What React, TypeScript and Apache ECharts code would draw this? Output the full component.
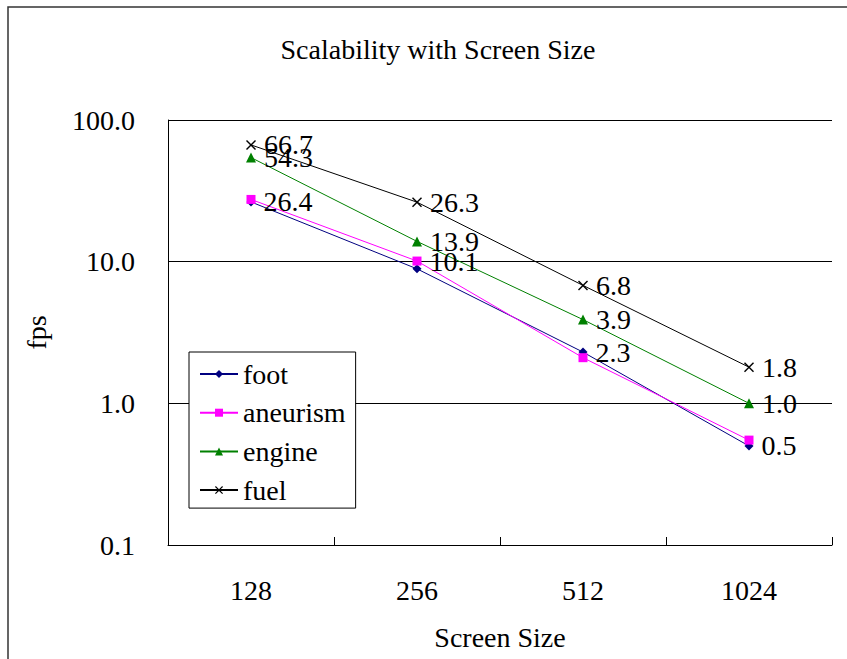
import React, { useEffect, useRef } from "react";
import * as echarts from "echarts";

const categories = ["128", "256", "512", "1024"];
const foot = [26.4, 8.9, 2.3, 0.5];
const aneurism = [27.5, 10.1, 2.1, 0.55];
const engine = [54.3, 13.9, 3.9, 1.0];
const fuel = [66.7, 26.3, 6.8, 1.8];
const footLabels = [true, false, true, true];
const aneurismLabels = [false, true, false, false];
const engineLabels = [true, true, true, true];
const fuelLabels = [true, true, true, true];

const FONT = "Liberation Serif";
const X_SYMBOL =
  "path://M0,1L1,0L5,4L9,0L10,1L6,5L10,9L9,10L5,6L1,10L0,9L4,5Z";

function makeSeries(
  name: string,
  values: number[],
  shown: boolean[],
  color: string,
  symbol: string,
  symbolSize: number
) {
  return {
    name,
    type: "line",
    symbol,
    symbolSize,
    showAllSymbol: true,
    lineStyle: { color, width: 1 },
    itemStyle: { color, borderWidth: 0 },
    emphasis: { disabled: true },
    data: values.map((v, i) => ({
      value: v,
      label: {
        show: shown[i],
        position: "right",
        distance: 8,
        formatter: (p: any) => Number(p.value).toFixed(1),
        color: "#000",
        fontSize: 28,
        fontFamily: FONT,
      },
    })),
  };
}

export default function App() {
  const ref = useRef<HTMLDivElement>(null);
  useEffect(() => {
    if (!ref.current) return;
    const chart = echarts.init(ref.current, null, { renderer: "svg" });
    chart.setOption({
      animation: false,
      backgroundColor: "#fff",
      textStyle: { fontFamily: FONT },
      title: {
        text: "Scalability with Screen Size",
        left: 433,
        top: 30,
        textAlign: "center",
        textStyle: {
          fontFamily: FONT,
          fontSize: 28,
          fontWeight: "normal",
          color: "#000",
        },
      },
      graphic: [
        {
          type: "rect",
          shape: { x: 8, y: 7, width: 900, height: 700 },
          style: { fill: "none", stroke: "#333", lineWidth: 1.5 },
          silent: true,
          z: -1,
        },
      ],
      legend: {
        orient: "vertical",
        left: 189,
        top: 352,
        itemWidth: 38,
        itemHeight: 10,
        itemGap: 8.7,
        padding: [7, 10, 3, 10],
        borderColor: "#000",
        borderWidth: 1,
        backgroundColor: "#fff",
        textStyle: {
          fontFamily: FONT,
          fontSize: 28,
          color: "#000",
          lineHeight: 30,
        },
        data: ["foot", "aneurism", "engine", "fuel"],
      },
      grid: { left: 168, right: 15, top: 120, bottom: 114 },
      xAxis: {
        type: "category",
        data: categories,
        boundaryGap: true,
        name: "Screen Size",
        nameLocation: "middle",
        nameGap: 78,
        nameTextStyle: { fontFamily: FONT, fontSize: 28, color: "#000" },
        axisLine: { lineStyle: { color: "#000", width: 1 } },
        axisTick: {
          show: true,
          inside: true,
          length: 8,
          alignWithLabel: false,
          lineStyle: { color: "#000" },
        },
        axisLabel: {
          margin: 31,
          fontFamily: FONT,
          fontSize: 28,
          color: "#000",
        },
        splitLine: { show: false },
      },
      yAxis: {
        type: "log",
        logBase: 10,
        min: 0.1,
        max: 100,
        name: "fps",
        nameLocation: "middle",
        nameGap: 118,
        nameRotate: 90,
        nameTextStyle: { fontFamily: FONT, fontSize: 28, color: "#000" },
        axisLine: { show: true, lineStyle: { color: "#000", width: 1 } },
        axisTick: { show: false },
        minorTick: { show: false },
        axisLabel: {
          margin: 33,
          fontFamily: FONT,
          fontSize: 28,
          color: "#000",
          formatter: (v: number) => Number(v).toFixed(1),
        },
        splitLine: { show: true, lineStyle: { color: "#000", width: 1 } },
      },
      series: [
        makeSeries("foot", foot, footLabels, "#000080", "diamond", 9),
        makeSeries("aneurism", aneurism, aneurismLabels, "#FF00FF", "rect", 9),
        makeSeries("engine", engine, engineLabels, "#008000", "triangle", 10),
        makeSeries("fuel", fuel, fuelLabels, "#000000", X_SYMBOL, 10),
      ],
    });
    return () => chart.dispose();
  }, []);
  return (
    <div
      ref={ref}
      style={{ position: "fixed", left: 0, top: 0, width: 847, height: 659 }}
    />
  );
}
